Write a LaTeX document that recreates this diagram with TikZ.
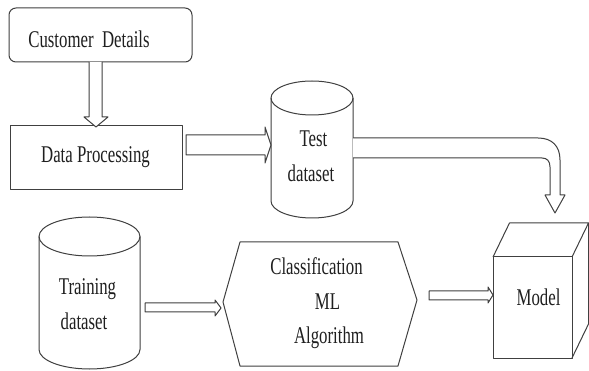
\documentclass[tikz,border=0pt]{standalone}
\usepackage{fontspec}
\setmainfont{Liberation Serif}[FakeStretch=0.7]
\begin{document}
\begin{tikzpicture}[x=1pt,y=-1pt,
  ln/.style={draw=black!75, line width=1pt, line join=round},
  anc/.style={inner sep=0pt, outer sep=0pt},
  txt/.style={font=\fontsize{24}{29}\selectfont, text=black!88, inner sep=0pt, anchor=base},
  blk/.style={ln, fill=white}]
\useasboundingbox (0,0) rectangle (589,371);
\fill[white] (0,0) rectangle (589,371);
\clip (0,0) rectangle (589,371);

% boxes
\node[anc, minimum width=183pt, minimum height=54pt] (cd) at (100.5,35) {};
\draw[ln, rounded corners=7pt] (cd.north west) rectangle (cd.south east);
\node[anc, minimum width=172pt, minimum height=64pt] (dp) at (96,158) {};
\draw[ln] (dp.north west) rectangle (dp.south east);

% test dataset cylinder
\node[anc, minimum width=82pt, minimum height=103pt] (test) at (312,149.5) {};
\draw[ln] (312,98) ellipse [x radius=41, y radius=17];
\draw[ln] (271,98) -- (271,201) arc [start angle=180, end angle=360, x radius=41, y radius=-17] -- (353,98);

% training dataset cylinder
\node[anc, minimum width=101pt, minimum height=113pt] (train) at (89.5,293) {};
\draw[ln] (89.5,236.5) ellipse [x radius=50.5, y radius=19.5];
\draw[ln] (39,236.5) -- (39,349.5) arc [start angle=180, end angle=360, x radius=50.5, y radius=-19.5] -- (140,236.5);

% classification hexagon
\node[anc, minimum width=194pt, minimum height=124pt] (cls) at (320,304) {};
\draw[ln] (223,302) -- (240,242) -- (398,242) -- (417,300) -- (398,366) -- (240,366) -- cycle;

% model cube
\node[anc, minimum width=79pt, minimum height=101pt] (model) at (532.5,307.5) {};
\draw[ln] (model.north west) rectangle (model.south east);
\draw[ln] (model.north west) -- ++(16.5,-34) -- ++(79,0) -- (model.north east);
\draw[ln] (model.south east) -- ++(16.5,-34) -- ++(0,-101);

% texts
\node[txt] (cdt) at (89,48) {Customer\ \ Details};
\node[txt] (dpt) at (95.5,163) {Data Processing};
\node[txt] (tt1) at (313.5,147) {Test};
\node[txt] (tt2) at (311,182) {dataset};
\node[txt] (tr1) at (87.5,295) {Training};
\node[txt] (tr2) at (84,330) {dataset};
\node[txt] (cl1) at (316.5,275) {Classification};
\node[txt] (cl2) at (327.5,310) {ML};
\node[txt] (cl3) at (329,343) {Algorithm};
\node[txt] (mt) at (538.5,306) {Model};

% hollow arrows
\draw[blk] ([xshift=-11.5pt]cd.south) -- ++(0,55) -- ++(-5,0) -- ([yshift=-1pt]dp.north)
  -- ++(12,-10) -- ++(-6,0) -- ++(0,-55);
\draw[blk] ([xshift=4pt,yshift=23pt]dp.east) -- ++(79,0) -- ++(0,-8) -- ([yshift=4.5pt]test.west)
  -- ++(-6,18) -- ++(0,-8) -- ++(-79,0) -- cycle;
\coordinate (mtop) at ([xshift=22.5pt,yshift=44pt]model.north);
\draw[blk] ([yshift=11.5pt]test.east) -- ++(185,0) .. controls +(14,0) and +(0,-14) .. ++(22,22)
  -- ++(0,35) -- ++(5,0) -- (mtop) -- ++(-10,-18) -- ++(5,0) -- ++(0,-28)
  .. controls +(0,-6) and +(5,0) .. ++(-8,-9) -- ([yshift=-8.5pt]test.east);
\draw[blk] ([xshift=5pt,yshift=-10pt]train.east) -- ++(70,0) -- ++(0,-3) -- ([xshift=-2pt,yshift=-4pt]cls.west)
  -- ++(-6,8) -- ++(0,-4) -- ++(-70,0) -- cycle;
\draw[blk] ([xshift=12pt,yshift=13pt]cls.east) -- ++(59,0) -- ++(0,-4) -- ([yshift=12.5pt]model.west)
  -- ++(-5,8) -- ++(0,-3) -- ++(-59,0) -- cycle;
\end{tikzpicture}
\end{document}
